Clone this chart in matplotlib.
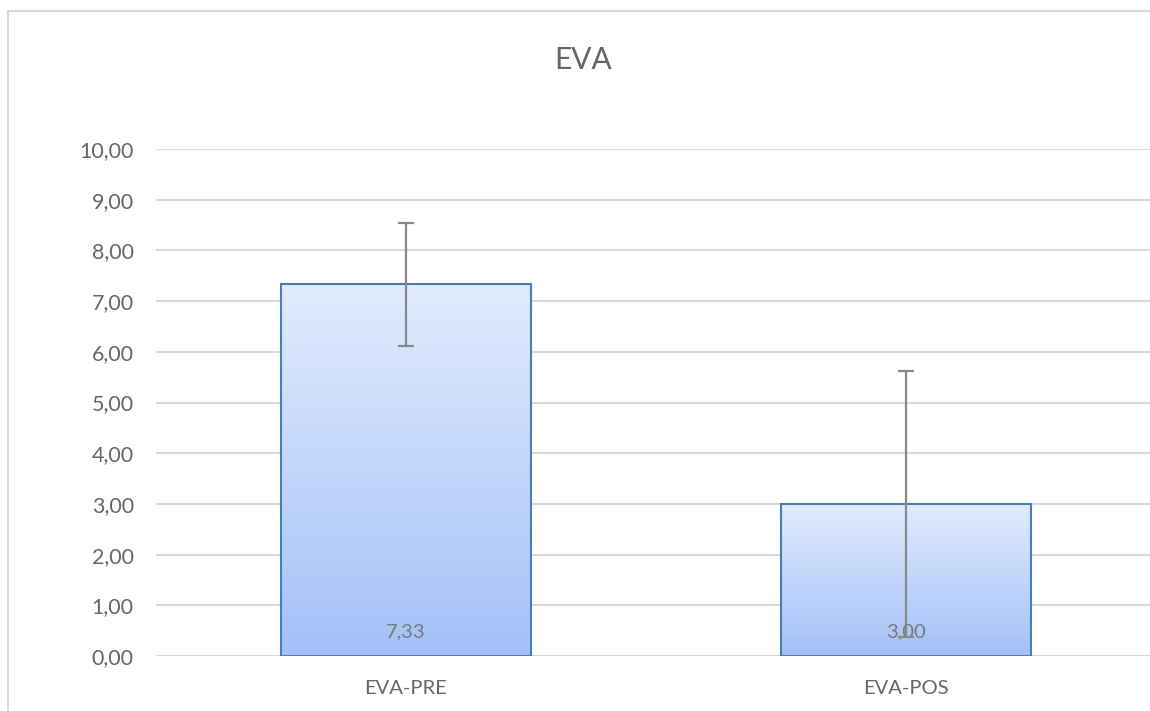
import matplotlib.pyplot as plt
import matplotlib.patches as mpatches
from matplotlib.colors import LinearSegmentedColormap
import numpy as np

# Données
categories = ["EVA-PRE", "EVA-POS"]
moyennes = [7.33, 3.00]
ecarts = [1.22, 2.62]
etiquettes = ["7,33", "3,00"]
graduations = [0, 1, 2, 3, 4, 5, 6, 7, 8, 9, 10]

plt.rcParams['font.family'] = ['Lato', 'DejaVu Sans']
gris_texte = "#666666"

fig = plt.figure(figsize=(11.5, 7.11), dpi=100)
fig.patch.set_facecolor("white")

# cadre du graphique (style Excel)
cadre = mpatches.Rectangle((8 / 1150, -0.05), 1.2, 1 - 11 / 711 + 0.05,
                           transform=fig.transFigure, fill=False,
                           edgecolor="#d9d9d9", linewidth=1.5)
fig.patches.append(cadre)

ax = fig.add_axes([156 / 1150, (711 - 656) / 711, 994 / 1150, 507 / 711])

x = np.arange(len(categories))
barres = ax.bar(x, moyennes, width=0.5, color="none", edgecolor="#4a7ebb",
                linewidth=1.5, zorder=3)

# dégradé vertical dans chaque barre
degrade = np.linspace(0, 1, 256).reshape(-1, 1)
cmap = LinearSegmentedColormap.from_list("bleu", ["#a3c1f8", "#e1ebfd"])
for b in barres:
    x0, y0 = b.get_x(), b.get_y()
    w, h = b.get_width(), b.get_height()
    im = ax.imshow(degrade, cmap=cmap, aspect="auto", origin="lower",
                   extent=[x0, x0 + w, y0, y0 + h], zorder=2)
    im.set_clip_path(b)

ax.errorbar(x, moyennes, yerr=ecarts, fmt="none", ecolor="#898989",
            elinewidth=1.6, capsize=6, capthick=1.6, zorder=5)

for xi, lab in zip(x, etiquettes):
    ax.annotate(lab, xy=(xi, 0), xytext=(0, 17.5), textcoords="offset points",
                ha="center", va="center", fontsize=14.5, color="#7a7a7a",
                zorder=4)

ax.set_xlim(-0.5, -0.5 + 994 / 500)
ax.set_ylim(0, 10)
ax.set_yticks(graduations)
ax.set_yticklabels([f"{v:.2f}".replace(".", ",") for v in graduations])
ax.set_xticks(x)
ax.set_xticklabels(categories)
ax.tick_params(axis="both", length=0, labelcolor=gris_texte)
ax.tick_params(axis="y", pad=16, labelsize=15.5)
ax.tick_params(axis="x", pad=17, labelsize=14.5)
ax.grid(True, axis="y", color="#d9d9d9", linewidth=1.5, zorder=0)
ax.set_axisbelow(True)
for s in ax.spines.values():
    s.set_visible(False)

fig.text(583 / 1150, 1 - 60 / 711, "EVA", ha="center", va="center",
         fontsize=21.5, color=gris_texte)

fig.savefig("out.png", dpi=100)
